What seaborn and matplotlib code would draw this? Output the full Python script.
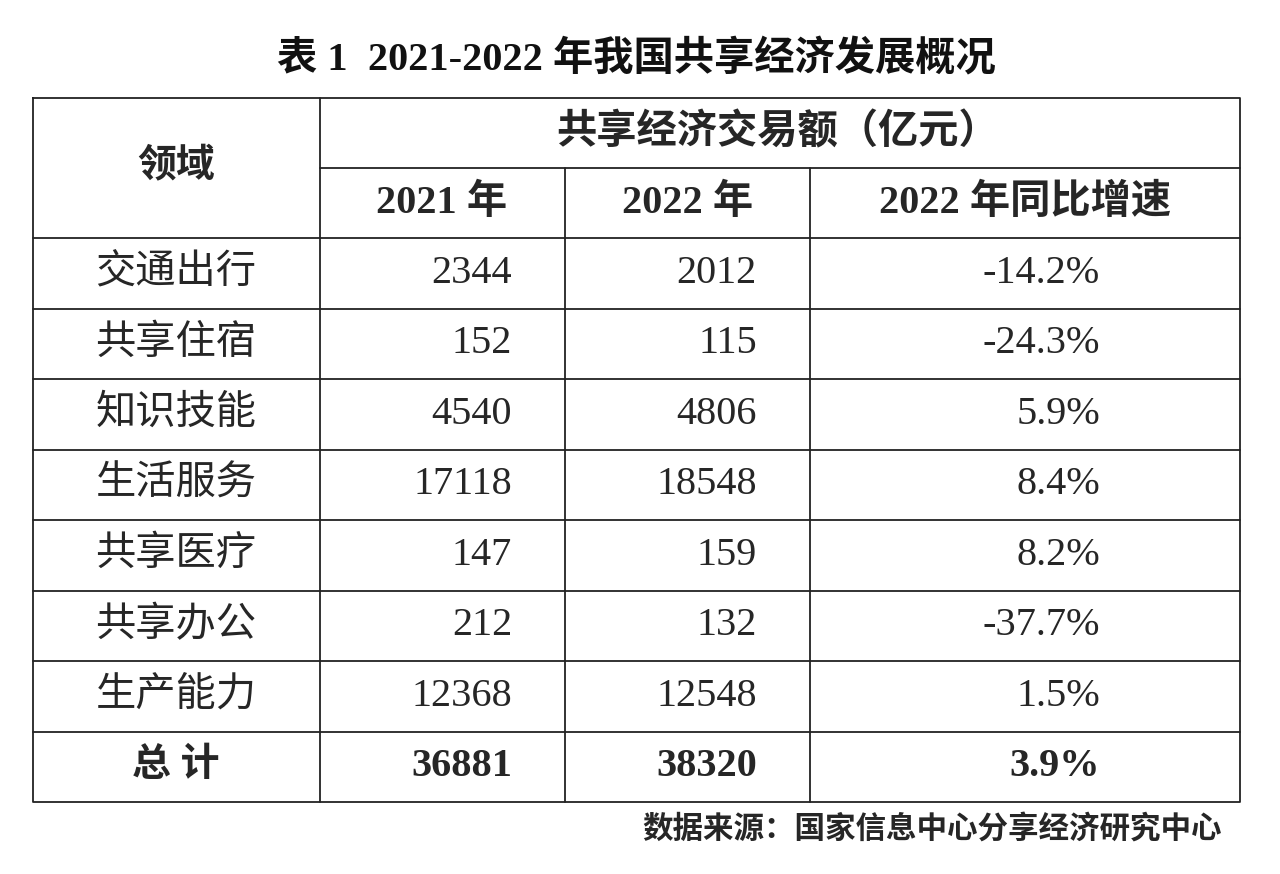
import matplotlib
matplotlib.use("Agg")
import matplotlib.pyplot as plt
import seaborn as sns

sns.set_theme(style="white")
plt.rcParams["font.family"] = ["Liberation Serif", "Noto Sans CJK SC"]

title = "表 1  2021-2022 年我国共享经济发展概况"
fields = ["交通出行", "共享住宿", "知识技能", "生活服务", "共享医疗", "共享办公", "生产能力"]
v2021 = [2344, 152, 4540, 17118, 147, 212, 12368]
v2022 = [2012, 115, 4806, 18548, 159, 132, 12548]
growth = ["-14.2%", "-24.3%", "5.9%", "8.4%", "8.2%", "-37.7%", "1.5%"]
total = ["总 计", "36881", "38320", "3.9%"]
source = "数据来源：国家信息中心分享经济研究中心"

fig = plt.figure(figsize=(12.8, 8.74), dpi=100)
ax = fig.add_axes([0, 0, 1, 1])
ax.set_xlim(0, 1280)
ax.set_ylim(874, 0)
ax.axis("off")

left, right = 33, 1240
cols = [320, 565, 810]
top, hsplit, hbot, row_h = 98, 168, 238, 70.5
nrows = len(fields) + 1
bottom = hbot + nrows * row_h
lc = "#222222"
lw = 1.3

# borders
ax.plot([left, right, right, left, left], [top, top, bottom, bottom, top], color=lc, lw=lw)
for c in cols:
    ax.plot([c, c], [hsplit if c != cols[0] else top, bottom], color=lc, lw=lw)
ax.plot([cols[0], right], [hsplit, hsplit], color=lc, lw=lw)
for i in range(nrows):
    y = hbot + i * row_h
    ax.plot([left, right], [y, y], color=lc, lw=lw)

fs = 29
ax.text(636, 60, title, ha="center", va="center", fontsize=29, fontweight="bold", color="#111111")
ax.text(176, 168, "领域", ha="center", va="center", fontsize=fs - 1, fontweight="bold")
ax.text(778, 133, "共享经济交易额（亿元）", ha="center", va="center", fontsize=fs, fontweight="bold")
for x, s in zip([442, 688, 1025], ["2021 年", "2022 年", "2022 年同比增速"]):
    ax.text(x, 203, s, ha="center", va="center", fontsize=fs, fontweight="bold")

rx = [512, 757, 1100]
for i, f in enumerate(fields):
    y = hbot + (i + 0.5) * row_h
    ax.text(176, y, f, ha="center", va="center", fontsize=fs)
    ax.text(rx[0], y, str(v2021[i]), ha="right", va="center", fontsize=fs)
    ax.text(rx[1], y, str(v2022[i]), ha="right", va="center", fontsize=fs)
    ax.text(rx[2], y, growth[i], ha="right", va="center", fontsize=fs)

y = hbot + (nrows - 0.5) * row_h
ax.text(176, y, total[0], ha="center", va="center", fontsize=fs - 1, fontweight="bold")
for x, s in zip(rx, total[1:]):
    ax.text(x, y, s, ha="right", va="center", fontsize=fs, fontweight="bold")

ax.text(1222, 830, source, ha="right", va="center", fontsize=22, fontweight="bold")

fig.savefig("out.png", dpi=100, facecolor="white")
